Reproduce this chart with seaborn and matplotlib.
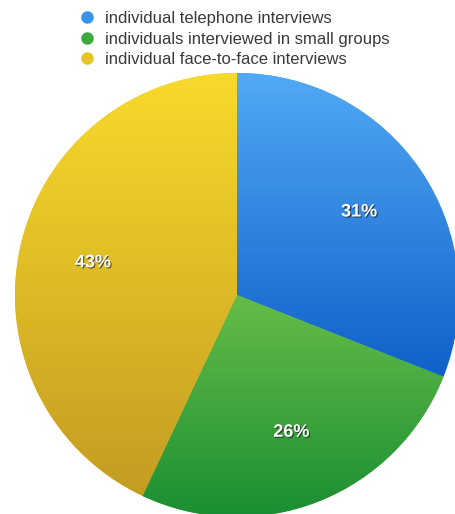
import numpy as np
import matplotlib
matplotlib.use("Agg")
import matplotlib.pyplot as plt
import matplotlib.patheffects as pe
from matplotlib.colors import LinearSegmentedColormap
from matplotlib.lines import Line2D
import seaborn as sns

categories = ["individual telephone interviews",
              "individuals interviewed in small groups",
              "individual face-to-face interviews"]
shares = [31, 26, 43]
pct_labels = ["31%", "26%", "43%"]

base_colors = ["#3A93E8", "#3FA83C", "#E5C428"]
top_colors = ["#52A9F6", "#66BD48", "#F8DA2B"]
bottom_colors = ["#0F60C8", "#1A8E33", "#C39C22"]

sns.set_theme(style="white")
plt.rcParams['font.family'] = ['Liberation Sans', 'DejaVu Sans']

fig = plt.figure(figsize=(4.55, 5.14), dpi=100)
W, H = 455, 514
cx, cy, r = 237, 295, 222
ax = fig.add_axes([(cx - r) / W, (H - cy - r) / H, 2 * r / W, 2 * r / H])

palette = sns.color_palette(base_colors)
wedges, texts, autotexts = ax.pie(
    shares, colors=palette, startangle=90, counterclock=False,
    labels=None, autopct=lambda p: "", pctdistance=0.665, radius=1,
    wedgeprops=dict(linewidth=0))

# gradient fill clipped to each wedge
for w, c0, c1 in zip(wedges, top_colors, bottom_colors):
    bb = w.get_path().get_extents()
    cmap = LinearSegmentedColormap.from_list("g", [c1, c0])
    grad = np.linspace(0, 1, 256).reshape(-1, 1)
    im = ax.imshow(grad, cmap=cmap, origin="lower", aspect="auto",
                   extent=(bb.x0, bb.x1, bb.y0, bb.y1), zorder=w.get_zorder() + 0.1,
                   interpolation="bilinear")
    im.set_clip_path(w)

for t, lab in zip(autotexts, pct_labels):
    t.set_text(lab)
    t.set_color("white")
    t.set_fontsize(13)
    t.set_fontweight("bold")
    t.set_zorder(10)
    t.set_path_effects([pe.withSimplePatchShadow(offset=(0.8, -0.8), shadow_rgbFace="#222222", alpha=0.7)])

ax.set_xlim(-1, 1)
ax.set_ylim(-1, 1)
ax.set_aspect("equal")
ax.axis("off")

handles = [Line2D([0], [0], marker="o", linestyle="none", markersize=8,
                  markerfacecolor=c, markeredgecolor=c) for c in base_colors]
leg = fig.legend(handles, categories, loc="upper left",
                 bbox_to_anchor=(80 / W, 1 - 11 / H), frameon=False,
                 borderpad=0, borderaxespad=0, handlelength=0.8, handletextpad=0.7,
                 labelspacing=0.34, prop={"size": 12})
for t in leg.get_texts():
    t.set_color("#3a3a3a")

fig.savefig("out.png", dpi=100)
